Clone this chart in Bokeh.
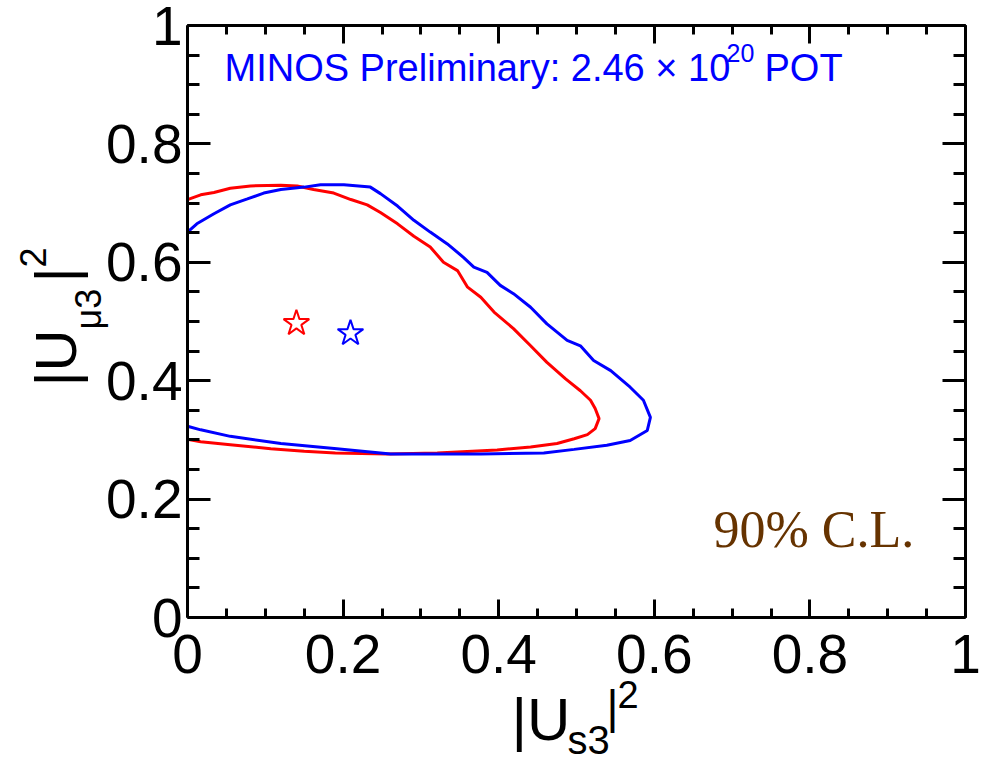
import math
from bokeh.plotting import figure
from bokeh.models import Range1d, LinearAxis, FixedTicker, Label
from bokeh.embed import file_html
from bokeh.resources import INLINE

# ---------------- data ----------------
tick_vals = [0.0, 0.2, 0.4, 0.6, 0.8, 1.0]
tick_labels = ["0", "0.2", "0.4", "0.6", "0.8", "1"]
minor_vals = [0.05, 0.1, 0.15, 0.25, 0.3, 0.35, 0.45, 0.5, 0.55,
              0.65, 0.7, 0.75, 0.85, 0.9, 0.95]

# red 90% C.L. contour
red_x = [0.000, 0.017, 0.034, 0.055, 0.081, 0.120, 0.141, 0.162, 0.188, 0.210,
         0.231, 0.248, 0.270, 0.291, 0.312, 0.329, 0.347, 0.360, 0.377, 0.394,
         0.419, 0.441, 0.462, 0.486, 0.505, 0.518, 0.524, 0.529, 0.524, 0.514,
         0.497, 0.475, 0.441, 0.398, 0.321, 0.257, 0.190, 0.150, 0.107, 0.055,
         0.017, 0.000]
red_y = [0.706, 0.714, 0.718, 0.725, 0.729, 0.730, 0.729, 0.723, 0.717, 0.706,
         0.697, 0.684, 0.665, 0.644, 0.626, 0.600, 0.586, 0.558, 0.541, 0.516,
         0.488, 0.459, 0.431, 0.403, 0.383, 0.367, 0.353, 0.336, 0.319, 0.309,
         0.302, 0.294, 0.288, 0.283, 0.278, 0.276, 0.278, 0.281, 0.285, 0.292,
         0.297, 0.301]

# blue 90% C.L. contour
blue_x = [0.000, 0.012, 0.034, 0.055, 0.077, 0.098, 0.120, 0.150, 0.171, 0.201,
          0.235, 0.248, 0.270, 0.291, 0.312, 0.334, 0.355, 0.368, 0.385, 0.402,
          0.419, 0.441, 0.462, 0.488, 0.505, 0.522, 0.544, 0.569, 0.586, 0.595,
          0.591, 0.569, 0.539, 0.497, 0.458, 0.377, 0.261, 0.192, 0.120, 0.055,
          0.017, 0.000]
blue_y = [0.651, 0.665, 0.682, 0.697, 0.707, 0.717, 0.723, 0.727, 0.731, 0.731,
          0.727, 0.716, 0.695, 0.671, 0.651, 0.631, 0.608, 0.592, 0.583, 0.561,
          0.547, 0.524, 0.496, 0.468, 0.459, 0.434, 0.417, 0.389, 0.367, 0.338,
          0.316, 0.299, 0.291, 0.284, 0.278, 0.276, 0.276, 0.285, 0.294, 0.306,
          0.317, 0.323]

# best-fit points
best_x = [0.140, 0.2095]
best_y = [0.497, 0.480]
best_colors = ["red", "blue"]

# ---------------- figure ----------------
W, H = 983, 762
FX0, FY0, FW, FH = 187, 617, 778, 592   # where the unit box sits on the page


def cx(X):
    return (X - FX0) / FW


def cy(Y):
    return (FY0 - Y) / FH


p = figure(width=W, height=H, output_backend="svg", toolbar_location=None,
           x_range=Range1d(cx(0), cx(W)), y_range=Range1d(cy(H), cy(0)),
           min_border=0, min_border_left=0, min_border_right=0,
           min_border_top=0, min_border_bottom=0,
           x_axis_location=None, y_axis_location=None)
p.grid.visible = False
p.outline_line_color = None
p.background_fill_color = "white"
p.border_fill_color = "white"

overrides = {v: s for v, s in zip(tick_vals, tick_labels)}


def base_axis(loc, ticker):
    ax = LinearAxis(fixed_location=loc, bounds=(0, 1), ticker=ticker)
    ax.axis_line_color = "black"
    ax.axis_line_width = 3
    ax.major_tick_out = 0
    ax.minor_tick_out = 0
    ax.major_tick_line_width = 3
    ax.minor_tick_line_width = 3
    ax.major_tick_line_color = "black"
    ax.minor_tick_line_color = "black"
    return ax


def labelled_axis(horizontal):
    ax = base_axis(0, FixedTicker(ticks=tick_vals, minor_ticks=minor_vals))
    ax.major_tick_in = 18 if horizontal else 23
    ax.minor_tick_in = 9 if horizontal else 12
    ax.major_label_overrides = overrides
    ax.major_label_text_font = "Liberation Sans"
    ax.major_label_text_font_size = "55px"
    ax.major_label_text_color = "black"
    ax.major_label_standoff = 17 if horizontal else 5
    return ax


def bare_axes(horizontal):
    # opposite side: ticks only, no labels (drawn as two tick-only axes)
    long_ax = base_axis(1, FixedTicker(ticks=[], minor_ticks=tick_vals))
    long_ax.minor_tick_in = 18 if horizontal else 23
    short_ax = base_axis(1, FixedTicker(ticks=[], minor_ticks=minor_vals))
    short_ax.minor_tick_in = 9 if horizontal else 12
    return long_ax, short_ax


p.add_layout(labelled_axis(True), "below")
p.add_layout(labelled_axis(False), "left")
for ax in bare_axes(True):
    p.add_layout(ax, "above")
for ax in bare_axes(False):
    p.add_layout(ax, "right")

# contours
p.line(red_x, red_y, line_color="red", line_width=3)
p.line(blue_x, blue_y, line_color="blue", line_width=3)
p.scatter(best_x, best_y, marker="star", size=27, fill_alpha=0,
          line_color=best_colors, line_width=2)

# ---------------- texts ----------------
SANS = "Liberation Sans"
SERIF = "Liberation Serif"


def add_text(X, BASE, text, font, size, color="black", rotated=False, mid=0.3465):
    # X/BASE: start of the text and its baseline, in page pixels
    off = mid * size
    if rotated:
        x, y, ang = cx(BASE - off), cy(X), math.pi / 2
    else:
        x, y, ang = cx(X), cy(BASE - off), 0.0
    p.add_layout(Label(x=x, y=y, text=text, text_font=font,
                       text_font_size=f"{size}px", text_color=color, angle=ang,
                       text_align="left", text_baseline="middle"))


add_text(224, 81, "MINOS Preliminary: 2.46 \u00d7 10", SANS, 38, "blue")
add_text(726, 61, "20", SANS, 25, "blue")
add_text(764, 81, "POT", SANS, 38, "blue")

add_text(713, 547, "90% C.L.", SERIF, 52, "#663300", mid=0.3375)

# x-axis title |U_s3|^2
add_text(511, 740, "|U", SANS, 60)
add_text(567, 753, "s3", SANS, 40)
add_text(606, 722, "|", SANS, 46)
add_text(617, 707, "2", SANS, 38)

# y-axis title |U_mu3|^2 (rotated, reads upwards; X here is the page y)
add_text(386, 75, "|U", SANS, 58, rotated=True)
add_text(329, 100, "\u03bc3", SANS, 36, rotated=True)
add_text(282, 75, "|", SANS, 58, rotated=True)
add_text(267, 45, "2", SANS, 36, rotated=True)

open("out.html", "w").write(file_html(p, INLINE))
